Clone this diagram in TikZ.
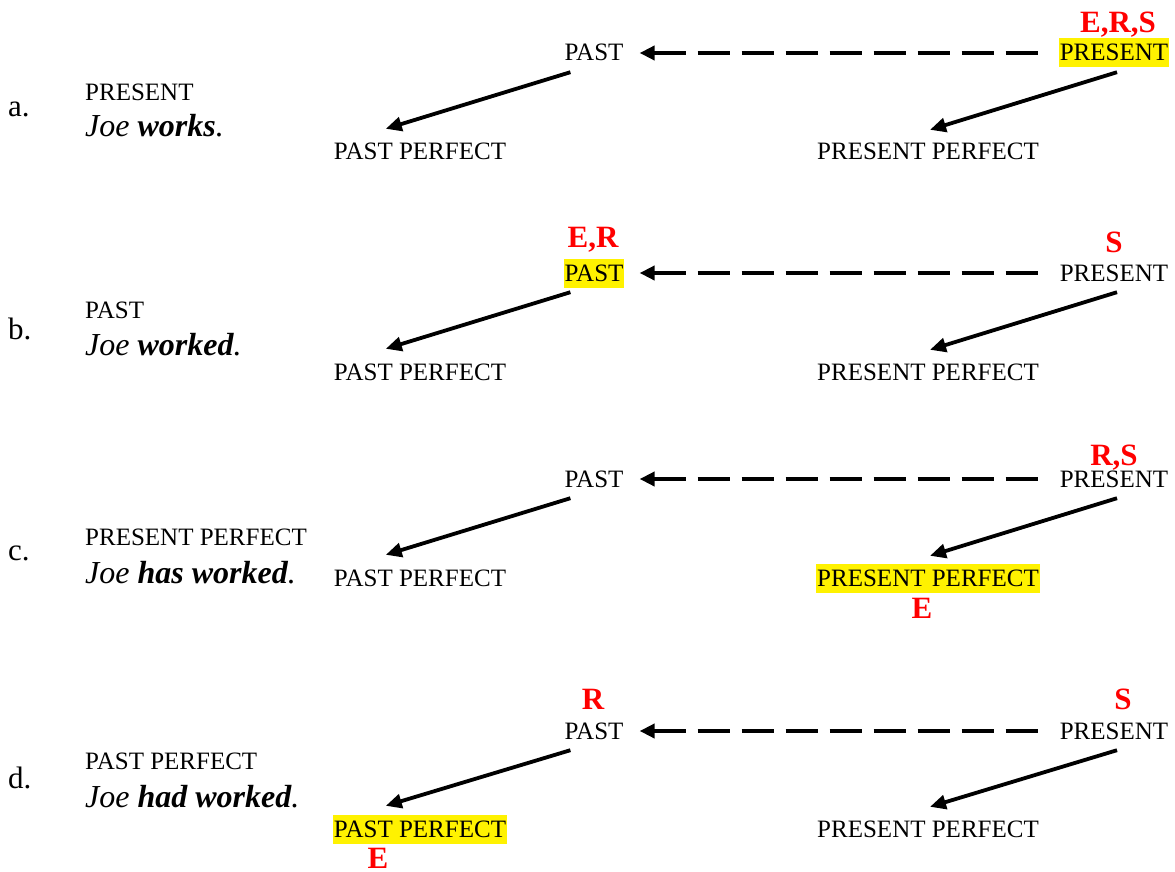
\documentclass[tikz,border=0pt]{standalone}
\usepackage{fontspec}
\setmainfont{Liberation Serif}
\usetikzlibrary{arrows.meta}

\tikzset{
  term/.style={font=\fontsize{25}{30}\selectfont, inner xsep=1pt, inner ysep=0.5pt, text height=22pt, text depth=6pt},
  marked/.style={term, fill=yellow},
  point/.style={font=\fontsize{31}{36}\selectfont\bfseries, text=red, inner sep=0pt, text height=20.5pt, text depth=0pt},
  tag/.style={font=\fontsize{25}{30}\selectfont, anchor=base west, inner sep=0pt},
  sentence/.style={font=\fontsize{32}{38}\selectfont\itshape, anchor=base west, inner sep=0pt},
  letter/.style={font=\fontsize{31}{36}\selectfont, anchor=base west, inner sep=0pt},
  toperfect/.style={-{Triangle[length=16pt,width=14pt]}, line width=3.8pt},
  topast/.style={{Triangle[length=15pt,width=14pt]}-, line width=4pt, dash pattern=on 32pt off 12pt, shorten <=15pt, shorten >=20pt},
}

\begin{document}
\begin{tikzpicture}[x=1pt, y=-1pt]
\useasboundingbox (0,0) rectangle (1175,872);

% a. present
\node[letter] (la) at (8,117) {a.};
\node[tag] (ta) at (85,101) {PRESENT};
\node[sentence] (sa) at (85,137) {Joe \textbf{works}.};
\node[term] (pastA) at (594,53) {PAST};
\node[marked] (presA) at (1114,53) {PRESENT};
\node[term] (ppA) at (420,152) {PAST PERFECT};
\node[term] (prpA) at (928,152) {PRESENT PERFECT};
\node[point] (ersA) at (1118,22) {E,R,S};
\draw[topast] (pastA.east) -- (presA.west);
\draw[toperfect] ([xshift=7pt,yshift=-4.5pt]pastA.south west) -- ([xshift=53pt,yshift=8.5pt]ppA.north west);
\draw[toperfect] ([xshift=3pt,yshift=-4.5pt]presA.south) -- ([xshift=2pt,yshift=7.5pt]prpA.north);

% b. past
\node[letter] (lb) at (8,339) {b.};
\node[tag] (tb) at (85,318) {PAST};
\node[sentence] (sb) at (85,355) {Joe \textbf{worked}.};
\node[marked] (pastB) at (594,273) {PAST};
\node[term] (presB) at (1114,273) {PRESENT};
\node[term] (ppB) at (420,372) {PAST PERFECT};
\node[term] (prpB) at (928,372) {PRESENT PERFECT};
\node[point] (erB) at (593,237) {E,R};
\node[point] (sB) at (1114,242) {S};
\draw[topast] (pastB.east) -- (presB.west);
\draw[toperfect] ([xshift=7pt,yshift=-4.5pt]pastB.south west) -- ([xshift=53pt,yshift=8.5pt]ppB.north west);
\draw[toperfect] ([xshift=3pt,yshift=-4.5pt]presB.south) -- ([xshift=2pt,yshift=7.5pt]prpB.north);

% c. present perfect
\node[letter] (lc) at (8,560) {c.};
\node[tag] (tc) at (85,545) {PRESENT PERFECT};
\node[sentence] (sc) at (85,583) {Joe \textbf{has worked}.};
\node[term] (pastC) at (594,479) {PAST};
\node[term] (presC) at (1114,479) {PRESENT};
\node[term] (ppC) at (420,578) {PAST PERFECT};
\node[marked] (prpC) at (928,578) {PRESENT PERFECT};
\node[point] (rsC) at (1114,455) {R,S};
\node[point] (eC) at (922,608) {E};
\draw[topast] (pastC.east) -- (presC.west);
\draw[toperfect] ([xshift=7pt,yshift=-4.5pt]pastC.south west) -- ([xshift=53pt,yshift=8.5pt]ppC.north west);
\draw[toperfect] ([xshift=3pt,yshift=-4.5pt]presC.south) -- ([xshift=2pt,yshift=7.5pt]prpC.north);

% d. past perfect
\node[letter] (ld) at (8,788) {d.};
\node[tag] (td) at (85,769) {PAST PERFECT};
\node[sentence] (sd) at (85,807) {Joe \textbf{had worked}.};
\node[term] (pastD) at (594,731) {PAST};
\node[term] (presD) at (1114,731) {PRESENT};
\node[marked] (ppD) at (420,829) {PAST PERFECT};
\node[term] (prpD) at (928,829) {PRESENT PERFECT};
\node[point] (rD) at (593,699) {R};
\node[point] (sD) at (1123,699) {S};
\node[point] (eD) at (378,858) {E};
\draw[topast] (pastD.east) -- (presD.west);
\draw[toperfect] ([xshift=7pt,yshift=-4.5pt]pastD.south west) -- ([xshift=53pt,yshift=8.5pt]ppD.north west);
\draw[toperfect] ([xshift=3pt,yshift=-4.5pt]presD.south) -- ([xshift=2pt,yshift=7.5pt]prpD.north);
\end{tikzpicture}
\end{document}
